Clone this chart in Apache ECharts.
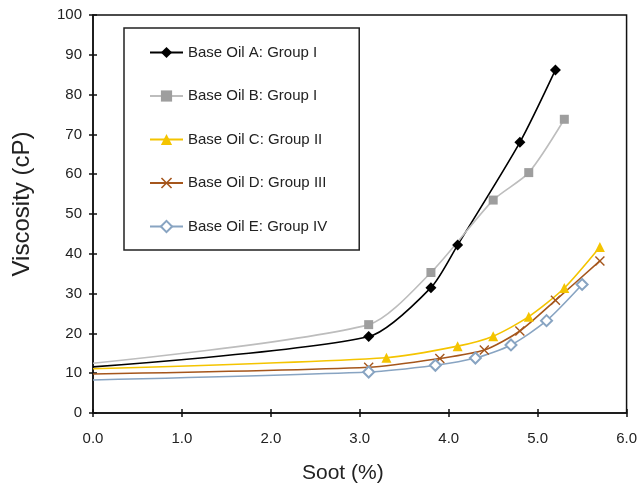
<!DOCTYPE html>
<html>
<head>
<meta charset="utf-8">
<script src="https://cdn.jsdelivr.net/npm/echarts@6/dist/echarts.min.js"></script>
<style>
html, body { margin: 0; padding: 0; background: #fff; }
#main { width: 640px; height: 494px; }
</style>
</head>
<body>
<div id="main"></div>
<script>
// series names
var names = ['Base Oil A: Group I', 'Base Oil B: Group I', 'Base Oil C: Group II', 'Base Oil D: Group III', 'Base Oil E: Group IV'];

// soot (%) and viscosity (cP)
var sootA = [0, 3.1, 3.8, 4.1, 4.8, 5.2];
var viscA = [11.6, 19.2, 31.5, 42.2, 68.0, 86.2];
var sootB = [0, 3.1, 3.8, 4.5, 4.9, 5.3];
var viscB = [12.5, 22.2, 35.3, 53.5, 60.4, 73.8];
var sootC = [0, 3.3, 4.1, 4.5, 4.9, 5.3, 5.7];
var viscC = [11.1, 13.9, 16.8, 19.3, 24.2, 31.4, 41.7];
var sootD = [0, 3.1, 3.9, 4.4, 4.8, 5.2, 5.7];
var viscD = [9.8, 11.5, 13.7, 15.8, 20.6, 28.3, 38.2];
var sootE = [0, 3.1, 3.85, 4.3, 4.7, 5.1, 5.5];
var viscE = [8.3, 10.3, 12.0, 13.8, 17.1, 23.2, 32.3];

var font = 'Liberation Sans, Arial, sans-serif';
var xShape = 'path://M0,1L1,0L5,4L9,0L10,1L6,5L10,9L9,10L5,6L1,10L0,9L4,5Z';
var axisColor = '#111';

function pts(xs, ys) {
	var out = [];
	xs.forEach(function(x, i) {
		// the curves start at the y axis with no marker
		if (i === 0) out.push({ value: [x, ys[i]], symbol: 'none' });
		else out.push([x, ys[i]]);
	});
	return out;
}

function line(name, data, lineColor, symbol, symbolSize, itemStyle) {
	return {
		name: name,
		type: 'line',
		data: data,
		smooth: 0.25,
		symbol: symbol,
		symbolSize: symbolSize,
		showAllSymbol: true,
		lineStyle: { color: lineColor, width: 1.6 },
		itemStyle: itemStyle,
		emphasis: { disabled: true }
	};
}

var dom = document.getElementById('main');
var myChart = echarts.init(dom, null, { renderer: 'canvas' });

var xBase = {
	type: 'value',
	min: 0,
	max: 6,
	interval: 1,
	position: 'bottom',
	splitLine: { show: false }
};
var yBase = {
	type: 'value',
	min: 0,
	max: 100,
	interval: 10,
	position: 'left',
	splitLine: { show: false }
};

var option = {
	animation: false,
	backgroundColor: '#fff',
	textStyle: { fontFamily: font },
	grid: {
		left: 93,
		right: 13,
		top: 15,
		bottom: 81,
		show: true,
		borderColor: axisColor,
		borderWidth: 1.5
	},
	legend: {
		orient: 'vertical',
		left: 124,
		top: 28,
		padding: [17, 32, 16, 25],
		itemGap: 28.5,
		itemWidth: 33,
		itemHeight: 14,
		borderColor: '#222',
		borderWidth: 1.5,
		backgroundColor: '#fff',
		data: names,
		textStyle: { fontSize: 15, color: '#222', fontFamily: font }
	},
	xAxis: [
		Object.assign({}, xBase, {
			name: 'Soot (%)',
			nameLocation: 'middle',
			nameGap: 50,
			nameTextStyle: { fontSize: 21, color: '#222', padding: [0, 34, 0, 0] },
			axisLine: { lineStyle: { color: axisColor, width: 1.5 } },
			axisTick: { show: true, length: 4, lineStyle: { color: axisColor, width: 1.5 } },
			axisLabel: {
				color: '#222',
				fontSize: 15,
				margin: 18,
				formatter: function(v) { return v.toFixed(1); }
			}
		}),
		// inner half of the crossing ticks
		Object.assign({}, xBase, {
			axisLine: { show: false },
			axisTick: { show: true, inside: true, length: 4, lineStyle: { color: axisColor, width: 1.5 } },
			axisLabel: { show: false }
		})
	],
	yAxis: [
		Object.assign({}, yBase, {
			name: 'Viscosity (cP)',
			nameLocation: 'middle',
			nameGap: 59,
			nameTextStyle: { fontSize: 24, color: '#222', padding: [0, 0, 0, 20] },
			axisLine: { show: true, lineStyle: { color: axisColor, width: 1.5 } },
			axisTick: { show: true, length: 4, lineStyle: { color: axisColor, width: 1.5 } },
			axisLabel: { color: '#222', fontSize: 15, margin: 11 }
		}),
		Object.assign({}, yBase, {
			axisLine: { show: false },
			axisTick: { show: true, inside: true, length: 4, lineStyle: { color: axisColor, width: 1.5 } },
			axisLabel: { show: false }
		})
	],
	series: [
		line(names[0], pts(sootA, viscA), '#000', 'diamond', 11, { color: '#000' }),
		line(names[1], pts(sootB, viscB), '#bdbdbd', 'rect', 9, { color: '#9e9e9e' }),
		line(names[2], pts(sootC, viscC), '#f4c400', 'triangle', 10, { color: '#f4c400' }),
		line(names[3], pts(sootD, viscD), '#a5561c', xShape, 10, { color: '#a5561c' }),
		line(names[4], pts(sootE, viscE), '#88a4c2', 'emptyDiamond', 11, { color: '#88a4c2', borderWidth: 1.3 })
	]
};

if (option && typeof option === 'object') {
	myChart.setOption(option, true);
}
</script>
</body>
</html>
